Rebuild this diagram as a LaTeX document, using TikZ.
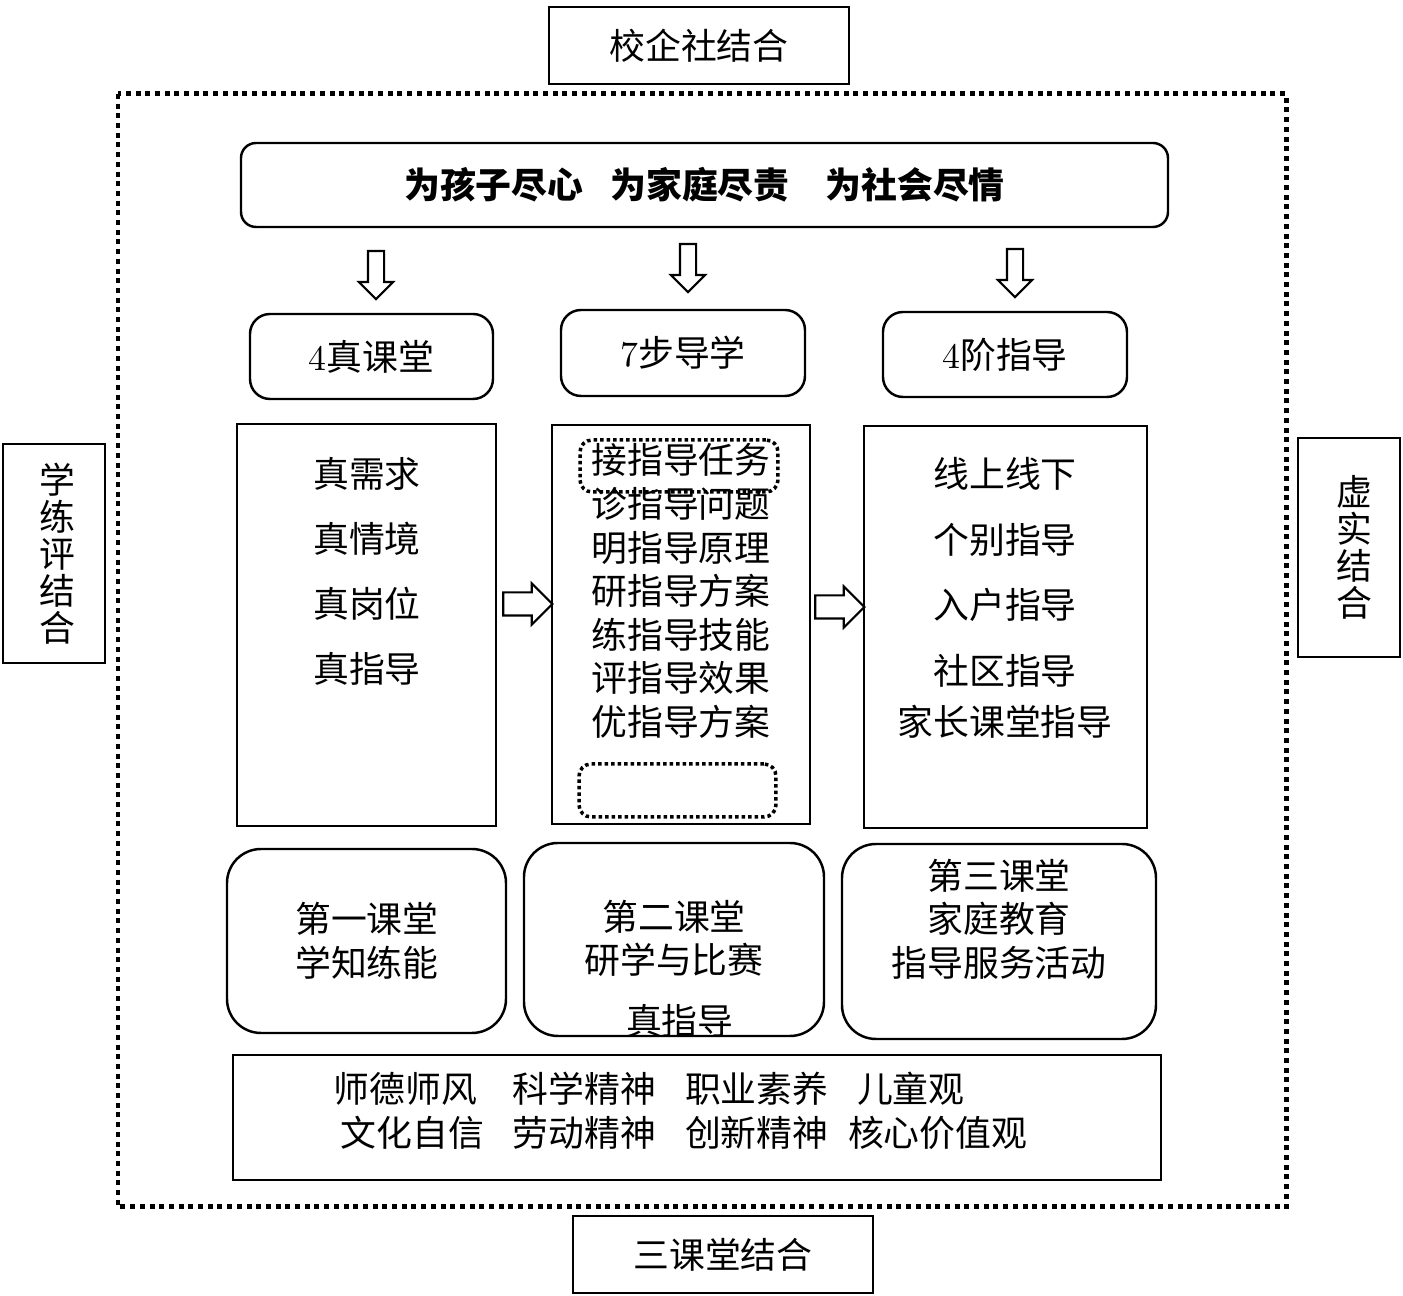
\documentclass[tikz,border=0pt]{standalone}
\usepackage{fontspec}
\newfontfamily\cjk{Noto Sans CJK SC}
\usepackage{tikz}
\usetikzlibrary{shapes.arrows}

\tikzset{
        box/.style = {draw, line width=0.6pt, inner sep=0pt, font=\cjk\fontsize{10.2}{10.5}\selectfont, align=center},
        rbox/.style = {box, line width=0.7pt, rounded corners=2mm},
        kebox/.style = {box, line width=0.7pt, rounded corners=3.4mm},
        dotbox/.style = {draw, line width=0.35mm, dash pattern=on 0.35mm off 0.3mm, rounded corners=1.2mm, inner sep=0pt},
        txt/.style = {inner sep=0pt, align=center, font=\cjk\fontsize{10.2}{12.4}\selectfont},
        downarrow/.style = {draw, line width=0.6pt, single arrow, shape border rotate=270, inner sep=0.7mm,
            minimum height=4.8mm, single arrow head extend=0.9mm},
        rightarrow/.style = {draw, line width=0.6pt, single arrow, inner sep=1.05mm,
            minimum height=4.9mm, single arrow head extend=0.9mm}
}

\begin{document}
\begin{tikzpicture}[x=0.1mm, y=-0.1mm]
        \useasboundingbox (0, 0) rectangle (1403, 1296);

        \node[box, minimum width=30mm, minimum height=7.7mm] (school) at (699, 45.5) {校企社结合};
        \node[box, minimum width=30mm, minimum height=7.7mm] (sanke) at (723, 1254.5) {三课堂结合};
        \node[box, minimum width=10.2mm, minimum height=21.9mm] (xuelian) at (54, 553.5) {\hspace*{0.2em}学\\\hspace*{0.2em}练\\\hspace*{0.2em}评\\\hspace*{0.2em}结\\\hspace*{0.2em}合};
        \node[box, minimum width=10.2mm, minimum height=21.9mm] (xushi) at (1349, 547.5) {\hspace*{0.3em}虚\\\hspace*{0.3em}实\\\hspace*{0.3em}结\\\hspace*{0.3em}合};

        \draw[line width=0.5mm, dash pattern=on 0.5mm off 0.47mm] (118, 94) rectangle (1286, 1207);

        \node[rbox, rounded corners=1.5mm, minimum width=92.7mm, minimum height=8.4mm] (motto) at (704.5, 185)
            {\bfseries 为孩子尽心\hspace{0.75em}为家庭尽责\hspace{1em}为社会尽情};

        \node[downarrow] (arrA) at (376, 271) {};
        \node[downarrow] (arrB) at (688, 264) {};
        \node[downarrow] (arrC) at (1015, 269) {};

        \node[rbox, minimum width=24.3mm, minimum height=8.5mm] (zhen) at (371.5, 356.5) {{\rmfamily 4}真课堂};
        \node[rbox, minimum width=24.4mm, minimum height=8.6mm] (bu) at (683, 353) {{\rmfamily 7}步导学};
        \node[rbox, minimum width=24.4mm, minimum height=8.5mm] (jie) at (1005, 354.5) {{\rmfamily 4}阶指导};

        \node[box, minimum width=25.9mm, minimum height=40.2mm] (colA) at (366.5, 625) {};
        \node[box, minimum width=25.8mm, minimum height=39.9mm] (colB) at (681, 624.5) {};
        \node[box, minimum width=28.3mm, minimum height=40.2mm] (colC) at (1005.5, 627) {};

        \node[txt, font=\cjk\fontsize{10.2}{18.5}\selectfont] (colAtext) at (367, 571)
            {真需求\\真情境\\真岗位\\真指导};
        \node[txt] (colBtext) at (681, 591)
            {接指导任务\\诊指导问题\\明指导原理\\研指导方案\\练指导技能\\评指导效果\\优指导方案};
        \node[txt, font=\cjk\fontsize{10.2}{18.6}\selectfont] (colCtext) at (1005, 598)
            {线上线下\\个别指导\\入户指导\\社区指导\\[-4pt]家长课堂指导};

        \node[dotbox, minimum width=19.8mm, minimum height=5.2mm] (task) at (679, 466) {};
        \node[dotbox, minimum width=19.7mm, minimum height=5.3mm] (blank) at (677.5, 790.5) {};

        \node[rightarrow] (arrAB) at (522, 604) {};
        \node[rightarrow] (arrBC) at (834, 607) {};

        \node[kebox, minimum width=27.9mm, minimum height=18.4mm] (keA) at (366.5, 941) {};
        \node[kebox, minimum width=30mm, minimum height=19.3mm] (keB) at (674, 939.5) {};
        \node[kebox, minimum width=31.4mm, minimum height=19.5mm] (keC) at (999, 941.5) {};

        \node[txt] (keAtext) at (367, 940.5) {第一课堂\\学知练能};
        \node[txt] (keBtext) at (674, 968.5) {第二课堂\\研学与比赛\\[4.8pt]\hspace*{0.33em}真指导};
        \node[txt] (keCtext) at (999, 919) {第三课堂\\家庭教育\\指导服务活动};

        \node[box, minimum width=92.8mm, minimum height=12.5mm] (suyang) at (697, 1117.5) {};
        \node[txt, align=left, anchor=west, font=\cjk\fontsize{10.2}{12.5}\selectfont] (suyangtext) at (333, 1111)
            {师德师风\hspace{1em}科学精神\hspace{0.8em}职业素养\hspace{0.8em}儿童观\\
             \hspace*{0.2em}文化自信\hspace{0.8em}劳动精神\hspace{0.8em}创新精神\hspace{0.55em}核心价值观};
\end{tikzpicture}
\end{document}
